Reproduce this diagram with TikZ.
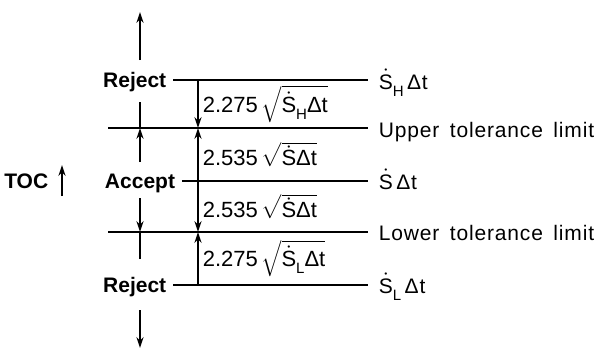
\documentclass[tikz,border=0pt]{standalone}
\usepackage{fontspec}
\setmainfont{Liberation Sans}
\usetikzlibrary{arrows.meta}
\newcommand{\Sdot}{\ensuremath{\dot{\hbox{S}}}}
\newcommand{\lowsub}[1]{\raisebox{-3.5pt}{\fontsize{7.5}{8}\selectfont #1}}
\tikzset{
  side/.style={inner xsep=3pt,inner ysep=0pt,font=\fontsize{10.5}{12}\selectfont\bfseries},
  lbl/.style={anchor=base west,inner xsep=5pt,inner ysep=0pt,font=\fontsize{10.5}{12}\selectfont\addfontfeature{LetterSpace=4}},
  dim/.style={anchor=west,inner sep=2pt,font=\fontsize{11}{13}\selectfont}
}
\begin{document}
\begin{tikzpicture}[x=0.5pt,y=-0.5pt,>={Stealth[length=5.5pt,width=3.6pt]},line width=0.8pt]
\useasboundingbox (0,0) rectangle (604,350);
% levels on the dimension line
\foreach \n/\y in {0/80,1/128,2/181,3/232,4/285} {
    \coordinate (d\n) at (198,\y);
}
\coordinate (uL) at (108,128);
\coordinate (lL) at (108,232);
% left texts
\node[side,anchor=base east] (rejT) at (173,87) {Reject};
\node[side,anchor=base] (acc) at (140,188) {Accept};
\node[side,anchor=base east] (rejB) at (173,292) {Reject};
\node[side,anchor=base east] (toc) at (55,188) {TOC};
% right texts
\node[lbl] (sH) at (368,89) {\Sdot\lowsub{H}\,Δt};
\node[lbl] (up) at (368,137) {Upper\hspace{0.5em}tolerance\hspace{0.5em}limit};
\node[lbl] (sS) at (368,189) {\Sdot\,Δt};
\node[lbl] (lo) at (368,240) {Lower\hspace{0.5em}tolerance\hspace{0.5em}limit};
\node[lbl] (sL) at (368,293) {\Sdot\lowsub{L}\,Δt};
% levels
\draw (rejT.east |- d0) -- (d0 -| sH.west);
\draw (uL) -- (d1 -| up.west);
\draw (acc.east |- d2) -- (d2 -| sS.west);
\draw (lL) -- (d3 -| lo.west);
\draw (rejB.east |- d4) -- (d4 -| sL.west);
% dimensions
\draw[->] (d0) -- node[dim] {2.275\,$\sqrt{\hbox{\Sdot\lowsub{H}Δt}}$} (d1);
\draw[->] (d2) -- node[dim] {2.535\,$\sqrt{\hbox{\Sdot Δt}}$} (d1);
\draw[->] (d2) -- node[dim] {2.535\,$\sqrt{\hbox{\Sdot Δt}}$} (d3);
\draw[->] (d4) -- node[dim] {2.275\,$\sqrt{\hbox{\Sdot\lowsub{L}Δt}}$} (d3);
% zone arrows
\coordinate (a0) at (140,60);
\coordinate (a1) at (140,12);
\draw[->] (a0) -- (a1);
\coordinate (s1) at (140,102);
\draw (s1) -- (s1 |- uL);
\coordinate (s2) at (140,162);
\draw[->] (s2) -- (s2 |- uL);
\coordinate (s3) at (140,198);
\draw[->] (s3) -- (s3 |- lL);
\coordinate (s4) at (140,259);
\draw (s4) -- (s4 |- lL);
\coordinate (b0) at (140,310);
\coordinate (b1) at (140,348);
\draw[->] (b0) -- (b1);
% TOC arrow
\coordinate (t0) at (62,196);
\coordinate (t1) at (62,165);
\draw[->] (t0) -- (t1);
\end{tikzpicture}
\end{document}
